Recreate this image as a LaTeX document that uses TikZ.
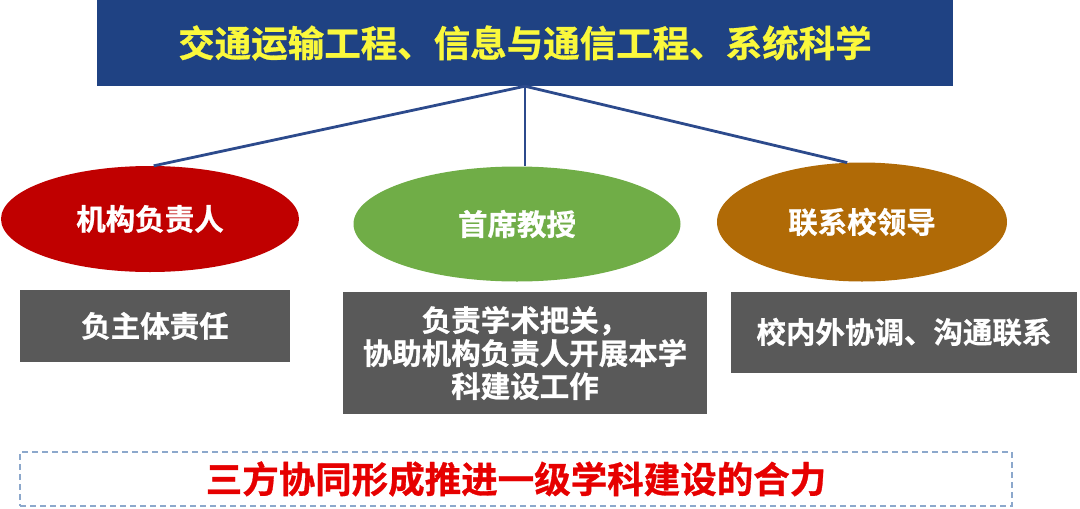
\documentclass[tikz,border=0pt]{standalone}
\usepackage{fontspec}
\usetikzlibrary{shapes.geometric}
\newfontfamily\cjk{Noto Sans CJK SC}[BoldFont={Noto Sans CJK SC Bold},BoldFeatures={FakeBold=0.8}]
\definecolor{topblue}{RGB}{31,66,131}
\definecolor{linkblue}{RGB}{44,74,140}
\definecolor{titleyellow}{RGB}{250,248,60}
\definecolor{eredd}{RGB}{192,0,0}
\definecolor{egreen}{RGB}{112,173,71}
\definecolor{ebrown}{RGB}{176,106,6}
\definecolor{boxgray}{RGB}{89,89,89}
\definecolor{dashblue}{RGB}{140,168,204}
\definecolor{slogan}{RGB}{230,0,0}
\tikzset{
  oval/.style={ellipse, inner sep=0pt, text=white, font=\cjk\bfseries\fontsize{29.5}{33}\selectfont},
  graybox/.style={rectangle, fill=boxgray, inner sep=0pt, text=white, align=center, font=\cjk\bfseries\fontsize{29.5}{33}\selectfont},
  link/.style={draw=linkblue, line width=2.8pt}
}
\begin{document}
\begin{tikzpicture}[x=1pt,y=-1pt]
\useasboundingbox (0,0) rectangle (1080,509);
\node[fill=topblue, minimum width=856pt, minimum height=86pt, inner sep=0pt, text=titleyellow, font=\cjk\bfseries\fontsize{36.5}{40}\selectfont] (top) at (525,43) {交通运输工程、信息与通信工程、系统科学};
\node[oval, fill=eredd, minimum width=298pt, minimum height=106pt] (e1) at (150,219) {机构负责人};
\node[oval, fill=egreen, minimum width=327pt, minimum height=115pt] (e2) at (517,224) {首席教授};
\node[oval, fill=ebrown, minimum width=290pt, minimum height=119pt] (e3) at (862,222) {联系校领导};
\draw[link] (top.south) -- (e1.86);
\draw[link] (top.south) -- (top.south |- e2.north);
\draw[link] (top.south) -- (e3.104);
\node[graybox, minimum width=270pt, minimum height=72pt] (b1) at (155,326) {负主体责任};
\node[graybox, minimum width=364pt, minimum height=122pt] (b2) at (525,353) {负责学术把关，\\协助机构负责人开展本学\\科建设工作};
\node[graybox, minimum width=346pt, minimum height=81pt] (b3) at (904,332) {校内外协调、沟通联系};
\node[draw=dashblue, dashed, line width=1.6pt, dash pattern=on 6pt off 4pt, minimum width=992pt, minimum height=54pt, inner sep=0pt, text=slogan, font=\cjk\bfseries\fontsize{36.5}{40}\selectfont] (bottom) at (516,479) {三方协同形成推进一级学科建设的合力};
\end{tikzpicture}
\end{document}
